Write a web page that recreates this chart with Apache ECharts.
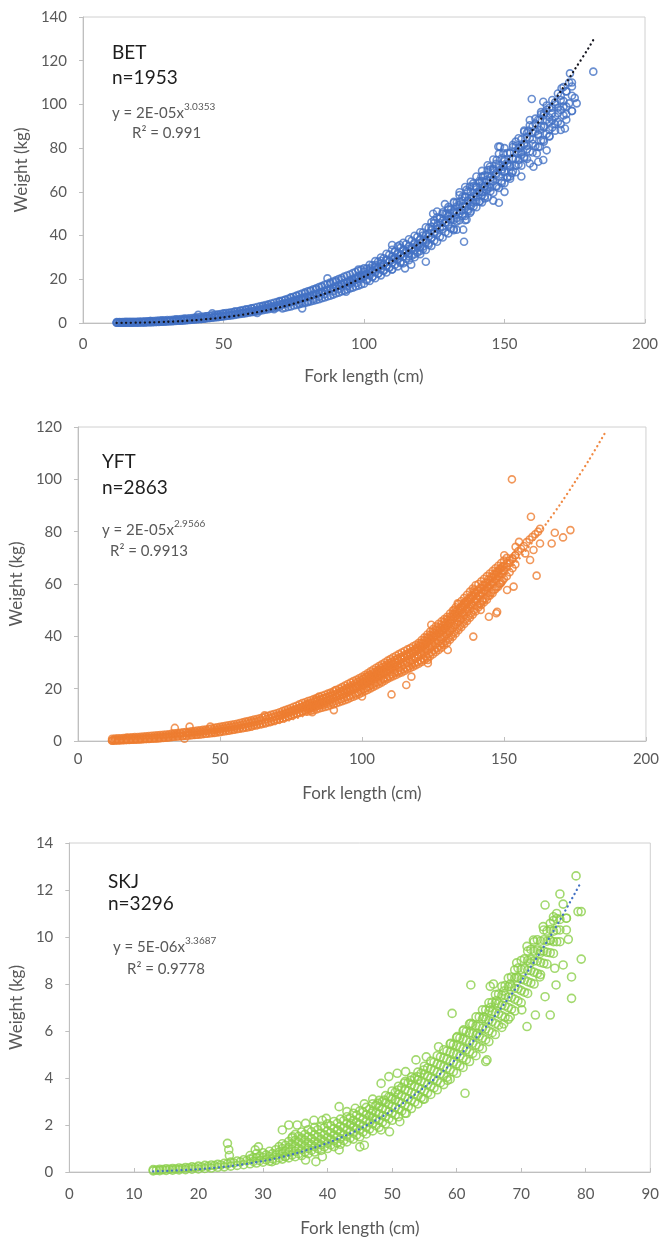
<!DOCTYPE html>
<html>
<head>
<meta charset="utf-8">
<title>Length-weight relationships</title>
<script src="https://cdn.jsdelivr.net/npm/echarts@6/dist/echarts.min.js"></script>
<style>
  html, body { margin: 0; padding: 0; background: #ffffff; }
  #chart { width: 662px; height: 1243px; }
</style>
</head>
<body>
<div id="chart"></div>
<script>
// ---- Species labels and fit statistics ----
const speciesCodes = ['BET', 'YFT', 'SKJ'];
const sampleSizes = [1953, 2863, 3296];
const fitCoef = ['2E-05', '2E-05', '5E-06'];
const fitExp = ['3.0353', '2.9566', '3.3687'];
const rSquared = ['0.991', '0.9913', '0.9778'];

// ---- Axis ticks: [min, max, step] ----
const betXTicks = [0, 200, 50];
const betYTicks = [0, 140, 20];
const yftXTicks = [0, 200, 50];
const yftYTicks = [0, 120, 20];
const skjXTicks = [0, 90, 10];
const skjYTicks = [0, 14, 2];

// ---- Bigeye tuna: individual fish [fork length cm, weight kg] ----
const betPoints = [
  [12,0.1],[12.5,0.2],[13,0.1],[13.5,0.2],[14,0.1],[14.5,0.2],[15,0.1],[15.5,0.2],[16,0.2],[16.5,0.1],
  [17,0.2],[17.5,0.1],[18,0.2],[18.5,0.3],[19,0.2],[19.5,0.3],[20,0.2],[21,0.3],[22,0.3],[23,0.4],
  [24,0.4],[24,0.9],[25,0.4],[26,0.5],[27,0.5],[28,0.6],[28,1.1],[29,0.6],[30,0.7],[31,0.8],
  [32,0.8],[33,0.9],[33,1.6],[34,1.0],[35,1.1],[36,1.2],[36,1.9],[37,1.3],[38,1.4],[39,1.5],
  [40,1.6],[40,2.4],[41,1.7],[41,3.7],[42,1.9],[43,2.0],[44,2.2],[44,3.1],[45,2.3],[46,2.5],
  [46,4.4],[47,2.7],[48,2.9],[48,3.8],[49,3.1],[50,3.3],[50,4.3],[51,3.4],[52,3.6],[52,4.6],
  [53,3.8],[54,4.0],[54,5.2],[55,4.2],[56,4.5],[56,5.6],[57,4.7],[58,4.9],[58,6.2],[59,5.2],
  [60,5.4],[60,6.6],[61,5.6],[62,5.9],[62,4.6],[63,6.2],[64,6.5],[64,7.6],[65,6.8],[66,7.1],
  [66,8.2],[67,7.4],[68,7.7],[68,6.3],[69,8.0],[70,8.4],[70,9.8],[71,8.7],[72,9.0],[72,10.6],
  [73,9.4],[74,9.8],[74,11.6],[75,10.2],[76,10.6],[76,12.4],[77,11.0],[77,8.8],[78,11.4],[78,6.7],
  [79,11.8],[79,13.5],[80,12.0],[80,10.0],[81,12.5],[81,14.6],[82,12.9],[82,11.0],[83,13.4],[83,15.4],
  [84,13.8],[84,12.0],[85,14.3],[85,16.5],[86,14.8],[86,13.2],[87,15.2],[87,20.4],[88,15.8],[88,18.0],
  [89,16.2],[89,14.6],[90,16.8],[90,18.8],[91,17.3],[91,15.5],[92,17.9],[92,19.8],[93,18.4],[93.6,14.3],
  [94,19.0],[94,16.8],[95,19.6],[95,18.0],[96,20.2],[96,18.6],[97,20.8],[97.4,18.3],[98,21.4],[98,24.5],
  [99,22.0],[99,20.0],[100,21.4],[100,23.5],[101,19.5],[101,22.2],[102,22.8],[102,25.0],[103,23.6],[103,21.0],
  [104,24.4],[104,26.5],[105,25.2],[105,22.5],[106,26.0],[106,28.5],[107,26.8],[107,24.2],[108,25.9],[108,29.0],
  [109,28.0],[109,25.5],[110,29.0],[110,35.7],[110,24.5],[111,30.0],[111,32.5],[112,29.5],[112,31.5],[112.8,35.7],
  [113,27.5],[113,30.8],[114,33.0],[114.6,25.0],[115,32.0],[116,34.0],[116,30.5],[116.8,26.7],[117,33.5],[118,36.0],
  [118,31.5],[119,35.0],[119.9,38.1],[120,33.0],[120,36.5],[121,40.0],[121,35.0],[122,28.0],[122,38.0],[123,41.0],
  [123,36.5],[124,44.0],[124,39.0],[124.6,50.0],[125,41.0],[125,47.0],[126,51.0],[126,43.0],[127,45.7],[127,48.0],
  [128,50.0],[128,44.0],[128.8,54.4],[129,46.0],[129.5,50.0],[130,52.0],[130,47.5],[130.6,50.3],[131,47.0],[131.9,42.5],
  [132,55.0],[132,50.5],[132.9,53.3],[133,42.7],[133,48.0],[134,58.5],[134,50.0],[134,54.0],[135,56.0],[135,51.5],
  [135.3,42.7],[135.6,37.2],[136,47.0],[136,57.5],[136.5,60.9],[136.5,47.3],[137,52.0],[137,56.0],[137.7,50.3],[137.7,62.4],
  [138,57.0],[138,53.5],[138.9,63.9],[139,55.0],[139,59.5],[140,59.4],[140,62.0],[140,55.5],[141,60.0],[141,64.0],
  [141.2,55.6],[141.8,67.0],[142,63.0],[142,58.5],[142.4,67.0],[143,57.0],[143,62.5],[143.6,60.9],[143.6,65.4],[144,70.0],
  [144,61.5],[144.8,71.5],[145,62.0],[145,66.5],[146,56.0],[146,66.0],[146,70.5],[147,68.5],[147.2,62.4],[147.2,74.6],
  [147.8,80.7],[148,55.0],[148,71.0],[148.4,80.7],[149,64.0],[149,69.5],[149.6,71.5],[149.6,77.6],[150,69.0],[150,60.0],
  [150,74.0],[151,73.0],[151,66.5],[152,77.6],[152,67.0],[152,71.5],[152.6,68.5],[153,75.0],[153,80.5],[154,83.0],
  [154,72.0],[154.3,77.6],[155,80.0],[155,74.5],[156,67.0],[156,80.7],[156,77.0],[157,88.0],[157,76.0],[157,82.0],
  [158,85.0],[158,79.5],[158.5,88.0],[159,73.0],[159,92.9],[159.7,102.5],[160,82.0],[160,87.0],[160.3,71.5],[161,91.3],
  [161.5,77.6],[162,73.8],[162,86.0],[162.6,80.7],[162.6,92.9],[162.6,88.3],[163,95.5],[163.8,83.7],[163.8,101.2],[163.8,74.6],
  [164,95.0],[164,90.0],[165,97.5],[165,79.0],[166,85.3],[166,88.3],[166,94.0],[167,92.9],[167,98.5],[168,100.0],
  [168,91.0],[169,96.0],[170,88.3],[170,102.0],[170.3,107.4],[171,99.0],[171.5,89.0],[172,105.9],[172,95.5],[173,100.5],
  [173,110.0],[173.3,114.2],[174,108.2],[174,97.0],[175,103.0],[175.7,100.5],[181.6,115.0]
];
// Bigeye: weights of the many fish sharing a length class [fork length cm, [weights kg]]
const betBand = [
  [12,[0.1,0.4]],[13,[0.1,0.4]],[14,[0.1,0.4]],[15,[0.1,0.5]],[16,[0.2,0.5]],[17,[0.2,0.5]],[18,[0.2,0.6]],[19,[0.2,0.6]],[20,[0.3,0.7]],
  [21,[0.3,0.7]],[22,[0.3,0.8]],[23,[0.4,0.8]],[24,[0.4,0.9]],[25,[0.5,0.9]],[26,[0.5,1.0]],[27,[0.6,1.1]],[28,[0.6,1.1]],[29,[0.7,1.2]],[30,[0.8,1.3]],
  [31,[0.8,1.4]],[32,[0.9,1.5]],[33,[1.0,1.6]],[34,[1.1,1.7]],[35,[1.2,1.8]],[36,[1.3,1.9]],[37,[1.4,2.0]],[38,[1.5,2.2]],[39,[1.6,2.3]],[40,[1.7,2.5]],
  [41,[1.8,2.6]],[42,[1.9,2.8]],[43,[2.0,2.9]],[44,[2.2,3.1]],[45,[2.3,3.3]],[46,[2.4,3.5]],[47,[2.6,3.7]],[48,[2.7,3.9]],[49,[2.9,4.1]],[50,[3.0,4.3]],
  [51,[3.2,4.5]],[52,[3.3,4.7]],[53,[3.5,4.9]],[54,[3.7,5.1]],[55,[3.9,5.4]],[56,[4.1,5.6]],[57,[4.3,5.9]],[58,[4.5,6.1]],[59,[4.7,6.4]],[60,[4.9,6.7]],
  [61,[5.1,7.0]],[62,[5.3,7.3]],[63,[5.6,7.6]],[64,[5.8,7.9]],[65,[6.1,8.2]],[66,[6.3,8.5]],[67,[6.6,8.9]],[68,[6.9,9.2]],[69,[7.1,9.6]],[70,[7.4,10.0]],
  [71,[6.7,8.5,10.3]],[72,[7.0,8.8,10.6]],[73,[7.3,9.2,11.1]],[74,[7.6,9.6,11.6]],[75,[8.0,10.0,12.0]],[76,[8.3,10.4,12.5]],[77,[8.6,10.8,13.0]],[78,[8.9,11.2,13.5]],[79,[9.2,11.6,14.0]],[80,[9.5,12.0,14.5]],
  [81,[9.9,12.4,14.9]],[82,[10.2,12.8,15.4]],[83,[10.5,13.2,15.9]],[84,[10.9,13.7,16.5]],[85,[11.3,14.1,16.9]],[86,[11.7,14.6,17.5]],[87,[12.1,15.0,17.9]],[88,[12.5,15.5,18.5]],[89,[13.0,16.0,19.0]],[90,[13.5,16.5,19.5]],
  [91,[13.9,17.0,20.1]],[92,[14.4,17.5,20.6]],[93,[14.8,18.0,21.2]],[94,[15.3,18.5,21.7]],[95,[15.8,19.0,22.2]],[96,[16.2,19.5,22.8]],[97,[16.7,20.0,23.3]],[98,[17.1,20.5,23.9]],[99,[17.6,21.0,24.4]],[100,[18.0,21.5,25.0]],
  [101,[20.0,22.4,24.9]],[102,[19.2,21.7,24.1,26.6]],[103,[21.2,23.8,26.4]],[104,[20.5,23.1,25.7,28.3]],[105,[22.5,25.3,28.0]],
  [106,[21.8,24.5,27.3,30.0]],[107,[23.8,26.8,29.6]],[108,[23.1,26.0,28.8,31.7]],[109,[25.2,28.3,31.3]],[110,[24.5,27.5,30.5,33.5]],
  [111,[26.6,29.8,32.8]],[112,[25.9,29.0,32.0,35.1]],[113,[28.0,31.3,34.5]],[114,[27.3,30.4,33.6,36.7]],[115,[29.4,32.8,36.1]],
  [116,[28.7,31.9,35.1,38.3]],[117,[30.8,34.3,37.7]],[118,[30.1,33.4,36.6,39.9]],[119,[32.2,35.8,39.4]],[120,[31.5,34.8,38.2,41.5]],
  [121,[33.8,37.6,41.4]],[122,[33.4,36.9,40.3,43.8]],[123,[35.7,39.6,43.5]],[124,[35.3,38.9,42.5,46.1]],[125,[37.6,41.6,45.7]],
  [126,[37.2,40.9,44.7,48.4]],[127,[39.5,43.7,47.8]],[128,[39.1,43.0,46.8,50.7]],[129,[41.5,45.8,50.0]],[130,[41.0,45.0,49.0,53.0]],
  [131,[43.2,47.6,52.0]],[132,[43.0,47.1,51.3,55.4]],[133,[46.5,50.8,55.1]],[134,[47.0,51.3,55.5,59.8]],[135,[49.0,53.3,57.7]],
  [136,[49.0,53.4,57.8,62.2]],[137,[51.2,55.8,60.2]],[138,[51.0,55.5,60.1,64.6]],[139,[53.3,58.0,62.6]],[140,[53.0,57.7,62.3,67.0]],
  [141,[55.6,60.3,65.0]],[142,[55.2,60.0,64.8,69.6]],[143,[58.0,62.8,67.6]],[144,[57.4,62.3,67.3,72.2]],[145,[60.3,65.3,70.2]],
  [146,[59.6,64.7,69.7,74.8]],[147,[62.7,67.8,72.8]],[148,[61.8,67.0,72.2,77.4]],[149,[65.0,70.2,75.4]],[150,[64.0,69.3,74.7,80.0]],
  [151,[66.8,72.3,77.8]],[152,[66.0,72.0,78.0]],[153,[69.5,75.5,81.5]],[154,[69.0,75.0,81.0]],[155,[72.5,78.5,84.5]],
  [156,[72.0,78.0,84.0]],[157,[75.5,81.5,87.5]],[158,[75.0,81.0,87.0]],[159,[78.5,84.5,90.5]],[160,[78.0,84.0,90.0]],
  [161,[81.0,87.5,93.5]],[162,[80.5,86.5,93.0]],[163,[83.5,90.0,96.5]],[164,[83.0,89.5,96.0]],[165,[86.5,93.0,99.5]],
  [166,[85.5,92.0,98.5]],[167,[89.5,96.0,102.0]],[168,[88.0,94.5,101.0]],[169,[92.0,98.5,105.0]],[170,[91.0,97.5,104.0]],
  [171,[95.0,101.5,108.0]],[172,[93.0,99.0,106.0]],[174,[97.0,104.0,110.0]]
];

// ---- Yellowfin tuna: individual fish [fork length cm, weight kg] ----
const yftPoints = [
  [12,0.1],[12.5,0.3],[13,0.2],[13.5,0.5],[14,0.2],[14.5,0.4],[15,0.3],[15.5,0.6],[16,0.3],[16.5,0.8],
  [17,0.4],[17.2,1.2],[17.5,0.5],[18,0.4],[18.5,0.8],[19,0.5],[19.5,1.0],[20,0.5],[20.5,0.9],[21,0.6],
  [21.5,1.1],[22,0.6],[22.5,1.0],[23,0.7],[23.5,1.2],[24,0.8],[24.5,1.3],[25,0.8],[25.5,1.2],[26,0.9],
  [26.5,1.4],[27,1.0],[27.5,1.5],[28,1.0],[28.5,1.6],[29,1.1],[29.5,1.7],[30,1.2],[30.5,1.8],[31,1.3],
  [31.5,2.0],[32,1.4],[32.5,2.1],[33,1.5],[33.5,2.2],[34,1.6],[34.1,5.0],[34.5,2.4],[35,1.7],[35.5,2.5],
  [36,1.8],[36.5,2.7],[37,1.9],[37.5,0.9],[38,2.0],[38.5,2.9],[39,2.1],[39.3,5.5],[39.5,3.0],[40,2.2],
  [40.5,3.1],[41,2.3],[41.5,3.3],[42,2.4],[42.5,3.4],[43,2.5],[43.5,3.6],[44,2.6],[44.5,3.7],[45,2.8],
  [45.5,3.9],[46,2.9],[46.6,5.5],[47,3.0],[47.5,4.1],[48,3.1],[48.5,4.3],[49,3.3],[49.5,4.5],[50,3.4],
  [50.5,4.7],[51,3.6],[51.5,4.9],[52,3.7],[52.5,5.1],[53,3.9],[53.5,5.3],[54,4.1],[54.5,5.5],[55,4.3],
  [55.5,5.7],[56,4.5],[56.5,5.9],[57,4.7],[57.5,6.1],[58,4.9],[58.5,6.4],[59,5.1],[59.5,6.7],[60,5.3],
  [60.5,6.9],[61,5.5],[61.5,7.2],[62,5.8],[62.5,7.4],[63,6.0],[63.5,7.7],[64,6.3],[64.5,8.0],[65,6.5],
  [65.7,9.8],[66,6.8],[66.5,8.5],[67,7.1],[67.5,8.8],[68,7.4],[68.5,9.1],[69,7.7],[69.5,9.4],[70,8.0],
  [70.5,9.8],[71,8.3],[71.5,10.1],[72,8.6],[72.5,10.5],[73,9.0],[73.5,10.9],[74,9.3],[74.5,11.3],[75,9.7],
  [75.5,11.7],[76,10.1],[76.5,12.1],[77,10.5],[77.5,12.5],[78,10.9],[78.5,13.0],[79,11.3],[79.5,13.4],[80,11.7],
  [80.5,13.8],[81,12.1],[81.5,14.2],[82,12.5],[82.5,11.0],[83,13.0],[83.6,15.7],[84,13.4],[84.3,15.6],[84.9,17.0],
  [85,13.9],[85.5,15.8],[86,14.3],[86.5,16.3],[87,14.8],[87.5,16.8],[88,15.3],[88.5,17.3],[89,15.8],[89.5,17.8],
  [90,16.3],[90.1,11.8],[90.7,19.5],[91,16.8],[91.5,18.5],[92,17.3],[92.5,19.0],[93,17.8],[93.5,19.6],[94,18.3],
  [94.5,20.2],[95,18.8],[95.5,20.8],[96,19.4],[96.5,21.3],[97,20.0],[97.6,22.0],[98,20.6],[98.5,22.6],[99,21.2],
  [99.5,23.2],[100,21.8],[100,17.0],[100.5,23.8],[101,22.4],[101.5,24.5],[102,23.0],[102.3,20.8],[102.5,25.0],[103,23.6],
  [103.5,24.6],[104,24.2],[104,25.4],[104.5,22.5],[105,24.8],[105.5,26.5],[105.8,27.2],[106,25.5],[106.5,27.0],[107,26.2],
  [107.5,24.0],[108,26.9],[108.5,28.5],[109,27.6],[109.5,29.0],[110,28.3],[110.4,17.8],[110.5,30.0],[111,29.0],[111.5,26.5],
  [112,29.8],[112.5,31.5],[113,30.5],[113.5,28.0],[114,32.0],[114.5,30.0],[115,32.0],[115.6,21.4],[116,33.0],[116.5,31.0],
  [117,33.8],[117.4,24.6],[117.4,29.7],[118,34.5],[118.6,32.2],[119,35.5],[119.5,33.0],[120,36.5],[120.5,34.0],[120.9,34.8],
  [121,37.5],[121.5,35.5],[122,38.5],[122.5,36.0],[123,39.5],[123.2,31.0],[123.2,29.7],[123.5,37.0],[124,40.5],[124.4,44.4],
  [124.4,36.1],[124.5,38.0],[125,41.5],[125.5,39.9],[126,42.5],[126.5,40.0],[127,43.5],[127.5,41.0],[127.9,37.4],[128,44.5],
  [128.5,42.0],[129,45.5],[129.1,42.5],[129.5,43.0],[130,46.5],[130.2,34.8],[130.5,44.0],[131,47.5],[131.4,45.0],[132,48.5],
  [132.5,50.1],[133,49.5],[133.5,47.0],[133.7,52.6],[134,50.5],[134.8,46.3],[135,51.5],[135.5,49.0],[136,52.5],[136.3,53.2],
  [137,53.5],[137.2,50.1],[138,54.5],[138.5,52.0],[139,55.5],[139.2,39.9],[139.5,57.7],[140,56.5],[140.5,54.0],[141,57.5],
  [141.8,50.1],[142,58.5],[142.4,53.9],[143,59.5],[143.5,57.0],[144,60.5],[144.1,56.4],[144.7,47.5],[145,61.5],[145.9,60.3],
  [146,62.5],[147,63.5],[147.3,48.8],[147.6,64.0],[147.6,49.4],[148,65.0],[148.8,60.3],[149,66.0],[150,67.0],[150.1,71.0],
  [150.1,65.3],[151,68.0],[151.1,57.7],[152,69.0],[152.8,100.0],[153,70.0],[153.4,59.0],[154,71.0],[154.1,74.2],[155,72.5],
  [155.3,76.1],[156,73.5],[157,74.5],[157.5,71.7],[158,76.0],[159,77.0],[159.2,69.2],[159.5,85.7],[160,78.0],[160.4,73.0],
  [161,79.0],[161.5,63.2],[162,80.0],[162.7,81.1],[162.7,75.5],[166.8,75.5],[167.9,79.6],[170.8,77.8],[173.4,80.6]
];
// Yellowfin: weights of the many fish sharing a length class [fork length cm, [weights kg]]
const yftBand = [
  [12,[0.2,0.8]],[13,[0.2,0.9]],[14,[0.3,1.0]],[15,[0.3,1.0]],[16,[0.4,1.1]],[17,[0.4,1.2]],[18,[0.5,1.3]],[19,[0.5,1.4]],[20,[0.6,1.5]],
  [21,[0.6,1.5]],[22,[0.7,1.6]],[23,[0.8,1.7]],[24,[0.8,1.8]],[25,[0.9,1.9]],[26,[1.0,2.0]],[27,[1.0,2.1]],[28,[1.1,2.2]],[29,[1.2,2.3]],[30,[1.3,2.4]],
  [31,[1.4,2.5]],[32,[1.5,2.6]],[33,[1.6,2.8]],[34,[1.7,2.9]],[35,[1.8,3.0]],[36,[1.9,3.1]],[37,[2.0,3.3]],[38,[2.1,3.4]],[39,[2.2,3.5]],[40,[2.3,3.7]],
  [41,[2.4,3.8]],[42,[2.5,4.0]],[43,[2.6,4.1]],[44,[2.8,4.3]],[45,[2.9,4.4]],[46,[3.0,4.6]],[47,[3.2,4.8]],[48,[3.3,5.0]],[49,[3.5,5.2]],[50,[3.6,5.4]],
  [51,[3.8,5.6]],[52,[4.0,5.8]],[53,[4.1,6.0]],[54,[4.3,6.2]],[55,[4.5,6.4]],[56,[4.7,6.6]],[57,[4.9,6.9]],[58,[5.1,7.1]],[59,[5.3,7.4]],[60,[5.5,7.6]],
  [61,[5.8,7.9]],[62,[6.0,8.2]],[63,[6.2,8.4]],[64,[6.5,8.7]],[65,[6.7,9.0]],[66,[7.0,9.3]],[67,[7.3,9.6]],[68,[7.5,10.0]],[69,[7.8,10.3]],[70,[8.1,10.6]],
  [71,[8.4,9.6,11.0]],[72,[8.7,10.0,11.4]],[73,[9.0,10.4,11.8]],[74,[9.4,10.8,12.2]],[75,[9.7,11.2,12.6]],[76,[10.0,11.6,13.1]],[77,[10.4,12.0,13.5]],[78,[10.7,12.4,14.0]],[79,[11.1,12.8,14.5]],[80,[11.3,13.0,14.8]],
  [80.5,[12.3,14.0]],[81,[11.3,13.3,15.3]],[81.5,[12.4,14.4]],[82,[11.6,13.6,15.6]],[82.5,[12.7,14.7]],[83,[11.8,13.9,16.0]],[83.5,[13.0,15.1]],[84,[12.1,14.3,16.4]],[84.5,[13.3,15.4]],
  [85,[12.4,14.6,16.8]],[85.5,[13.6,15.8]],[86,[12.7,15.0,17.3]],[86.5,[13.9,16.2]],[87,[13.0,15.4,17.7]],[87.5,[14.2,16.5]],[88,[13.3,15.7,18.1]],[88.5,[14.6,16.9]],[89,[13.7,16.1,18.5]],[89.5,[14.9,17.3]],
  [90,[14.0,16.5,19.0]],[90.5,[15.2,17.7]],[91,[14.4,17.0,19.5]],[91.5,[15.6,18.1]],[92,[14.8,17.4,20.0]],[92.5,[16.0,18.6]],[93,[15.2,17.9,20.6]],[93.5,[16.4,19.1]],[94,[15.6,18.4,21.2]],[94.5,[16.8,19.6]],
  [95,[16.0,18.9,21.8]],[95.5,[17.2,20.1]],[96,[16.5,19.4,22.3]],[96.5,[17.7,20.6]],[97,[16.9,19.9,22.9]],[97.5,[18.1,21.1]],[98,[17.4,20.4,23.4]],[98.5,[18.6,21.6]],[99,[17.9,21.0,24.0]],[99.5,[19.1,22.2]],
  [100,[18.5,20.5,22.5,24.5]],[100.5,[19.8,21.8,23.8]],[101,[19.0,21.1,23.1,25.2]],[101.5,[20.3,22.4,24.5]],[102,[19.5,21.6,23.8,25.9]],[102.5,[20.8,23.0,25.2]],
  [103,[20.1,22.3,24.5,26.6]],[103.5,[21.4,23.6,25.8]],[104,[20.7,22.9,25.1,27.3]],[104.5,[22.0,24.2,26.4]],[105,[21.2,23.5,25.7,28.0]],[105.5,[22.4,24.8,27.0]],
  [106,[21.8,24.0,26.4,28.6]],[106.5,[23.0,25.4,27.8]],[107,[22.4,24.7,27.1,29.3]],[107.5,[23.6,26.0,28.4]],[108,[23.0,25.3,27.7,30.0]],[108.5,[24.2,26.6,29.1]],
  [109,[23.7,26.0,28.4,30.7]],[109.5,[24.8,27.3,29.8]],[110,[24.3,26.6,29.0,31.3]],[110.5,[25.4,27.8,30.3]],[111,[24.8,27.2,29.6,32.0]],[111.5,[25.9,28.4,30.9]],
  [112,[25.2,27.7,30.1,32.6]],[112.5,[26.4,28.9,31.4]],[113,[25.8,28.3,30.7,33.2]],[113.5,[26.9,29.5,32.0]],[114,[26.2,28.7,31.3,33.8]],[114.5,[27.4,30.0,32.6]],
  [115,[26.8,29.3,31.9,34.4]],[115.5,[28.0,30.6,33.2]],[116,[27.4,29.9,32.5,35.0]],[116.5,[28.5,31.2,33.7]],[117,[27.9,30.4,33.0,35.5]],[117.5,[29.1,31.7,34.3]],
  [118,[28.4,31.0,33.6,36.2]],[118.5,[29.6,32.3,34.9]],[119,[29.0,31.6,34.2,36.8]],[119.5,[30.2,32.9,35.6]],[120,[29.5,32.2,34.8,37.5]],[120.5,[30.8,33.6,36.4]],
  [121,[30.2,33.0,35.8,38.6]],[121.5,[31.6,34.5,37.3]],[122,[31.0,33.9,36.7,39.6]],[122.5,[32.4,35.3,38.3]],[123,[31.7,34.7,37.7,40.7]],[123.5,[33.2,36.2,39.3]],
  [124,[32.4,35.5,38.7,41.8]],[124.5,[34.0,37.1,40.2]],[125,[33.2,36.4,39.6,42.8]],[125.5,[34.8,38.0,41.2]],[126,[34.0,37.3,40.5,43.8]],[126.5,[35.6,38.8,42.2]],
  [127,[34.8,38.1,41.5,44.8]],[127.5,[36.4,39.7,43.1]],[128,[35.7,39.0,42.4,45.7]],[128.5,[37.3,40.6,44.0]],[129,[36.6,39.9,43.3,46.6]],[129.5,[38.2,41.5,44.9]],
  [130,[37.5,40.8,44.2,47.5]],[130.5,[39.3,42.5,46.0]],[131,[38.7,42.0,45.4,48.7]],[131.5,[40.5,43.8,47.2]],[132,[39.9,43.2,46.6,49.9]],[132.5,[41.7,45.0,48.4]],
  [133,[41.1,44.4,47.8,51.1]],[133.5,[42.9,46.2,49.6]],[134,[42.3,45.6,49.0,52.3]],[134.5,[44.1,47.4,50.8]],[135,[43.5,46.8,50.2,53.5]],[135.5,[45.3,48.6,52.0]],
  [136,[44.7,48.0,51.4,54.7]],[136.5,[46.5,49.8,53.2]],[137,[45.9,49.2,52.6,55.9]],[137.5,[47.7,51.0,54.4]],[138,[47.1,50.4,53.8,57.1]],[138.5,[48.9,52.2,55.6]],
  [139,[48.3,51.6,55.0,58.3]],[139.5,[50.1,53.4,56.8]],[140,[49.5,52.8,56.2,59.5]],[140.5,[51.5,54.5,57.5]],[141,[51.0,55.5,60.0]],[141.5,[52.5,55.6,58.5]],
  [142,[52.0,56.6,61.0]],[142.5,[53.5,56.6,59.5]],[143,[53.0,57.6,62.0]],[143.5,[54.5,57.6,60.5]],[144,[54.0,58.7,63.0]],[144.5,[55.5,58.7,61.8]],
  [145,[55.5,59.7,64.0]],[145.5,[56.8,59.7,62.8]],[146,[56.5,60.8,65.0]],[146.5,[57.8,60.8,63.8]],[147,[58.0,61.8,66.0]],[147.5,[59.0,61.8,64.8]],
  [148,[59.0,62.9,67.0]],[148.5,[60.0,62.9,65.8]],[149,[60.5,63.9,68.0]],[149.5,[61.3,63.9,66.8]],[150,[62.0,65.0,69.0]],
  [151,[63.0,66.5,70.0]],[152,[64.5,68.0]],[153,[66.0,69.5]],[154,[67.5,71.0]]
];

// ---- Skipjack tuna: individual fish [fork length cm, weight kg] ----
const skjPoints = [
  [24.5,1.22],[24.7,0.95],[24.8,0.7],[28.8,0.94],[29.3,1.07],[31.4,0.44],[33,1.79],[33.4,0.65],[34,2.0],[34.6,1.5],
  [35.3,2.0],[36.6,2.07],[36.6,0.51],[37.9,2.2],[38.2,0.44],[39.2,2.2],[39.2,0.65],[39.8,2.28],[41.6,1.79],[41.8,2.78],
  [41.8,0.94],[43,2.57],[43.7,2.07],[44.3,2.71],[45,1.07],[45.7,1.14],[45.7,2.9],[46.8,2.5],[47,3.1],[47.8,2.92],
  [48.3,1.79],[48.3,3.77],[48.8,3.06],[49.5,4.06],[49.6,1.71],[49.8,3.2],[50.8,4.2],[50.9,3.49],[51.2,2.14],[51.9,3.78],
  [52.1,4.27],[52.2,2.5],[52.9,3.9],[53.7,4.77],[53.9,4.06],[54.8,3.1],[54.9,4.34],[55.3,4.9],[57.2,5.33],[58.6,3.9],
  [59.1,5.48],[59.3,6.75],[60.1,5.76],[61.1,6.05],[61.3,3.35],[62.2,6.33],[62.2,7.96],[63.2,5.9],[64.2,6.6],[64.5,4.7],
  [64.7,4.77],[65.2,7.0],[65.2,7.9],[65.7,8.0],[66.2,7.3],[67.3,7.7],[67.3,6.3],[68.3,8.0],[68.3,6.6],[69.3,8.9],
  [69.3,8.3],[70.1,6.9],[70.9,9.6],[70.9,6.19],[71.4,8.9],[71.9,9.87],[72.2,6.68],[72.9,8.3],[72.9,9.3],[73.4,10.44],
  [73.7,11.36],[73.7,7.46],[74.5,6.68],[74.5,9.87],[74.5,10.58],[75,10.86],[75.2,8.67],[75.4,7.96],[75.5,11.0],[76,11.83],
  [76.5,11.4],[76.5,8.81],[77,10.8],[77.3,9.9],[77.8,8.3],[77.8,7.39],[78.5,12.6],[78.8,11.08],[79.3,11.08],[79.3,9.06],
  [13.5,0.08],[14.5,0.1],[15.5,0.12],[16.5,0.13],[17.5,0.15],[18.5,0.17],[19.5,0.19],[20.5,0.21],[21.5,0.24],[22.5,0.27],
  [23.5,0.3],[24.5,0.34],[25.5,0.38],[26.5,0.43],[27.5,0.48]
];
// Skipjack: weights of the many fish sharing a length class [fork length cm, [weights kg]]
const skjBand = [
  [13,[0.05,0.1]],[14,[0.06,0.12]],[15,[0.07,0.14]],[16,[0.08,0.15]],[17,[0.09,0.17]],[18,[0.1,0.19]],[19,[0.12,0.22]],[20,[0.13,0.25]],
  [21,[0.15,0.28]],[22,[0.17,0.3]],[23,[0.2,0.33]],[24,[0.22,0.37]],[25,[0.25,0.42]],[26,[0.28,0.47]],[27,[0.31,0.52]],
  [28,[0.35,0.55,0.7]],[28.5,[0.45,0.62]],[29,[0.38,0.6,0.78]],[29.5,[0.48,0.68]],[30,[0.42,0.62,0.82]],[30.5,[0.52,0.73]],
  [31,[0.46,0.66,0.88]],[31.5,[0.56,0.78]],[32,[0.5,0.72,0.95]],[32.5,[0.6,0.85,1.08]],
  [33,[0.55,0.78,1.0,1.2]],[33.5,[0.66,0.9,1.14]],[34,[0.6,0.84,1.05,1.3]],[34.5,[0.72,0.96,1.2,1.45]],
  [35,[0.65,0.88,1.1,1.35,1.6]],[35.5,[0.78,1.02,1.28,1.52]],[36,[0.7,0.95,1.2,1.45,1.7]],[36.5,[0.85,1.1,1.35,1.6]],
  [37,[0.78,1.0,1.25,1.5,1.8]],[37.5,[0.92,1.17,1.43,1.72]],[38,[0.85,1.08,1.32,1.58,1.9]],[38.5,[1.0,1.24,1.5,1.8]],
  [39,[0.92,1.15,1.4,1.65,1.95]],[39.5,[1.07,1.32,1.58,1.88]],[40,[1.0,1.22,1.48,1.75,2.05]],[40.5,[1.15,1.4,1.67,1.97]],
  [41,[1.08,1.32,1.58,1.85,2.15]],[41.5,[1.24,1.5,1.77,2.07]],[42,[1.18,1.42,1.68,1.95,2.25]],[42.5,[1.34,1.6,1.88,2.18]],
  [43,[1.28,1.52,1.8,2.08,2.35]],[43.5,[1.45,1.72,2.0,2.3]],[44,[1.4,1.65,1.92,2.2,2.5]],[44.5,[1.57,1.84,2.12,2.42]],
  [45,[1.5,1.78,2.05,2.32,2.6]],[45.5,[1.7,1.97,2.25,2.55]],[46,[1.62,1.9,2.18,2.45,2.75]],[46.5,[1.83,2.1,2.38,2.68]],
  [47,[1.75,2.05,2.32,2.6,2.9]],[47.5,[1.97,2.25,2.53,2.84]],[48,[1.9,2.2,2.48,2.78,3.05]],[48.5,[2.12,2.4,2.7,3.0]],
  [49,[2.05,2.35,2.65,2.95,3.25]],[49.5,[2.27,2.57,2.88,3.2]],[50,[2.2,2.5,2.8,3.1,3.45]],[50.5,[2.43,2.75,3.07,3.4]],
  [51,[2.35,2.68,3.0,3.3,3.65]],[51.5,[2.6,2.93,3.25,3.6]],[52,[2.5,2.85,3.18,3.5,3.85]],[52.5,[2.78,3.12,3.45,3.8]],
  [53,[2.7,3.05,3.38,3.7,4.05]],[53.5,[2.97,3.32,3.65,4.0]],[54,[2.9,3.25,3.6,3.92,4.25]],[54.5,[3.17,3.52,3.86,4.2]],
  [55,[3.1,3.45,3.8,4.15,4.5]],[55.5,[3.37,3.73,4.08,4.43]],[56,[3.3,3.65,4.0,4.38,4.72]],[56.5,[3.58,3.95,4.32,4.67]],
  [57,[3.5,3.88,4.25,4.6,4.95]],[57.5,[3.8,4.18,4.55,4.9]],[58,[3.72,4.1,4.48,4.85,5.2]],[58.5,[4.03,4.42,4.8,5.15]],
  [59,[3.95,4.35,4.72,5.1,5.45]],[59.5,[4.27,4.67,5.05,5.42]],[60,[4.2,4.6,5.0,5.38,5.72]],[60.5,[4.52,4.93,5.32,5.7]],
  [61,[4.45,4.85,5.25,5.65,6.0]],[61.5,[4.78,5.2,5.6,5.98]],[62,[4.7,5.12,5.52,5.92,6.3]],[62.5,[5.05,5.48,5.9,6.28]],
  [63,[4.95,5.4,5.82,6.22,6.6]],[63.5,[5.33,5.78,6.2,6.6]],[64,[5.25,5.7,6.12,6.52,6.9]],[64.5,[5.63,6.08,6.5,6.9]],
  [65,[5.55,6.0,6.45,6.85,7.2]],[65.5,[5.93,6.4,6.83,7.22]],[66,[5.85,6.32,6.78,7.18,7.55]],[66.5,[6.25,6.73,7.17,7.57]],
  [67,[6.15,6.65,7.1,7.52,7.9]],[67.5,[6.58,7.07,7.52,7.93]],[68,[6.5,7.0,7.45,7.88,8.25]],[68.5,[6.93,7.43,7.88,8.3]],
  [69,[6.85,7.35,7.82,8.25,8.6]],[69.5,[7.28,7.8,8.26,8.68]],[70,[7.2,7.72,8.2,8.62,9.0]],[70.5,[7.65,8.17,8.65,9.07]],
  [71,[7.6,8.1,8.58,9.0,9.4]],[71.5,[8.05,8.57,9.05,9.47]],[72,[8.0,8.5,8.98,9.4,9.8]],[72.5,[8.45,8.98,9.45,9.88]],
  [73,[8.4,8.92,9.4,9.82]],[73.5,[8.88,9.4,9.88,10.3]],[74,[8.85,9.35,9.82,10.25]],[74.5,[9.33,9.85,10.32]],
  [75,[9.3,9.8,10.25,10.7]],[75.5,[9.8,10.3,10.78]],[76,[9.8,10.3,10.75]],[77,[10.3,10.8]]
];

// ---- Power-curve trend lines: [fork length cm, fitted weight kg] ----
const betTrend = [
  [12,0.034],[15,0.067],[20,0.16],[25,0.315],[30,0.55],[35,0.875],[40,1.31],[45,1.88],[50,2.58],[55,3.45],
  [60,4.5],[65,5.73],[70,7.17],[75,8.85],[80,10.8],[85,12.94],[90,15.3],[95,18.1],[100,21.2],[105,24.6],
  [110,28.3],[115,32.4],[120,36.8],[125,41.7],[130,47.0],[135,52.7],[140,58.9],[145,65.4],[150,72.6],[155,80.1],
  [160,88.3],[165,96.9],[170,106],[175,116],[180,126],[182,130.4]
];
const yftTrend = [
  [12,0.036],[15,0.069],[20,0.16],[25,0.314],[30,0.54],[35,0.85],[40,1.26],[45,1.78],[50,2.43],[55,3.23],
  [60,4.18],[65,5.29],[70,6.59],[75,8.08],[80,9.79],[85,11.7],[90,13.9],[95,16.3],[100,18.9],[105,21.9],
  [110,25.1],[115,28.6],[120,32.5],[125,36.6],[130,41.1],[135,45.9],[140,51.2],[145,56.8],[150,62.8],[155,69.1],
  [160,76],[165,83.2],[170,90.8],[175,99.0],[180,107.5],[186,118.5]
];
const skjTrend = [
  [13,0.028],[15,0.045],[20,0.119],[25,0.253],[30,0.468],[35,0.786],[40,1.234],[45,1.835],[50,2.615],[55,3.605],
  [60,4.836],[65,6.33],[70,8.13],[75,10.25],[79,12.2]
];

// ---- Styling and layout ----
const FONT = 'Lato, "Open Sans", "Noto Sans", sans-serif';
const AXIS_GREY = '#bfbfbf';
const TEXT_GREY = '#595959';

// expand [length, [w1, w2, ...]] rows into [length, weight] pairs
function expandBand(band) {
  const out = [];
  band.forEach(function (row) { row[1].forEach(function (w) { out.push([row[0], w]); }); });
  return out;
}

const panels = [
  { points: expandBand(betBand).concat(betPoints), trend: betTrend, xt: betXTicks, yt: betYTicks,
    marker: '#4472c4', markerSize: 7, trendColor: '#15151f',
    grid: { left: 83, top: 17, width: 562, height: 306 },
    xLabelMargin: 14, xNameGap: 45, yNameGap: 51,
    tx: 112, codeY: 53, nY: 78, eqX: 112, eqY: 113, r2X: 132, r2Y: 133 },
  { points: expandBand(yftBand).concat(yftPoints), trend: yftTrend, xt: yftXTicks, yt: yftYTicks,
    marker: '#ed7d31', markerSize: 7, trendColor: '#f08a45',
    grid: { left: 73, top: 427, width: 574, height: 314 },
    xLabelMargin: 11, xNameGap: 44, yNameGap: 50,
    tx: 102, codeY: 462, nY: 488, eqX: 102, eqY: 530, r2X: 110, r2Y: 551 },
  { points: expandBand(skjBand).concat(skjPoints), trend: skjTrend, xt: skjXTicks, yt: skjYTicks,
    marker: '#8ccf4b', markerSize: 8, trendColor: '#4472c4',
    grid: { left: 66, top: 843, width: 585, height: 329 },
    xLabelMargin: 15, xNameGap: 48, yNameGap: 43,
    tx: 108, codeY: 882, nY: 904, eqX: 113, eqY: 947, r2X: 127, r2Y: 969 }
];

const grids = [], xAxes = [], yAxes = [], series = [], graphics = [];

panels.forEach(function (p, i) {
  grids.push(Object.assign({
    show: true, borderColor: '#d0d0d0', borderWidth: 1, backgroundColor: 'transparent'
  }, p.grid));

  xAxes.push({
    gridIndex: i, type: 'value', min: p.xt[0], max: p.xt[1], interval: p.xt[2],
    name: 'Fork length (cm)', nameLocation: 'middle', nameGap: p.xNameGap,
    nameTextStyle: { fontFamily: FONT, fontSize: 17, color: TEXT_GREY },
    axisLine: { show: true, onZero: false, lineStyle: { color: AXIS_GREY, width: 1 } },
    axisTick: { show: true, inside: true, length: 4, lineStyle: { color: AXIS_GREY } },
    axisLabel: { margin: p.xLabelMargin, fontFamily: FONT, fontSize: 15, color: TEXT_GREY },
    splitLine: { show: false }
  });

  yAxes.push({
    gridIndex: i, type: 'value', min: p.yt[0], max: p.yt[1], interval: p.yt[2],
    name: 'Weight (kg)', nameLocation: 'middle', nameGap: p.yNameGap,
    nameTextStyle: { fontFamily: FONT, fontSize: 17, color: TEXT_GREY },
    axisLine: { show: true, onZero: false, lineStyle: { color: AXIS_GREY, width: 1 } },
    axisTick: { show: true, inside: false, length: 4, lineStyle: { color: AXIS_GREY } },
    axisLabel: { margin: 16, fontFamily: FONT, fontSize: 15, color: TEXT_GREY },
    splitLine: { show: false }
  });

  series.push({
    type: 'scatter', xAxisIndex: i, yAxisIndex: i, data: p.points,
    symbol: 'circle', symbolSize: p.markerSize, z: 2, large: false,
    itemStyle: { color: 'rgba(255,255,255,0)', borderColor: p.marker, borderWidth: 1.6 },
    emphasis: { disabled: true }, silent: true, animation: false
  });

  series.push({
    type: 'line', xAxisIndex: i, yAxisIndex: i, data: p.trend,
    showSymbol: false, symbol: 'none', smooth: 0.3, z: 3, clip: true,
    lineStyle: { color: p.trendColor, width: 2.3, type: [0.1, 4.6], cap: 'round' },
    silent: true, animation: false
  });

  const titleStyle = { fontFamily: FONT, fontSize: 19, fill: '#1e1e1e', align: 'left', verticalAlign: 'middle' };
  graphics.push({ type: 'text', x: p.tx, y: p.codeY, silent: true,
    style: Object.assign({ text: speciesCodes[i] }, titleStyle) });
  graphics.push({ type: 'text', x: p.tx, y: p.nY, silent: true,
    style: Object.assign({ text: 'n=' + sampleSizes[i] }, titleStyle) });

  graphics.push({ type: 'text', x: p.eqX, y: p.eqY, silent: true,
    style: {
      text: '{m|y = ' + fitCoef[i] + 'x}{s|' + fitExp[i] + '}',
      align: 'left', verticalAlign: 'middle',
      rich: {
        m: { fontFamily: FONT, fontSize: 15, fill: TEXT_GREY, lineHeight: 22 },
        s: { fontFamily: FONT, fontSize: 10, fill: TEXT_GREY, lineHeight: 10, verticalAlign: 'top' }
      }
    } });
  graphics.push({ type: 'text', x: p.r2X, y: p.r2Y, silent: true,
    style: { text: 'R\u00B2 = ' + rSquared[i], fontFamily: FONT, fontSize: 15, fill: TEXT_GREY,
      align: 'left', verticalAlign: 'middle' } });
});

const chart = echarts.init(document.getElementById('chart'), null, { renderer: 'canvas' });
chart.setOption({
  backgroundColor: '#ffffff',
  animation: false,
  grid: grids,
  xAxis: xAxes,
  yAxis: yAxes,
  series: series,
  graphic: { elements: graphics }
});
</script>
</body>
</html>
